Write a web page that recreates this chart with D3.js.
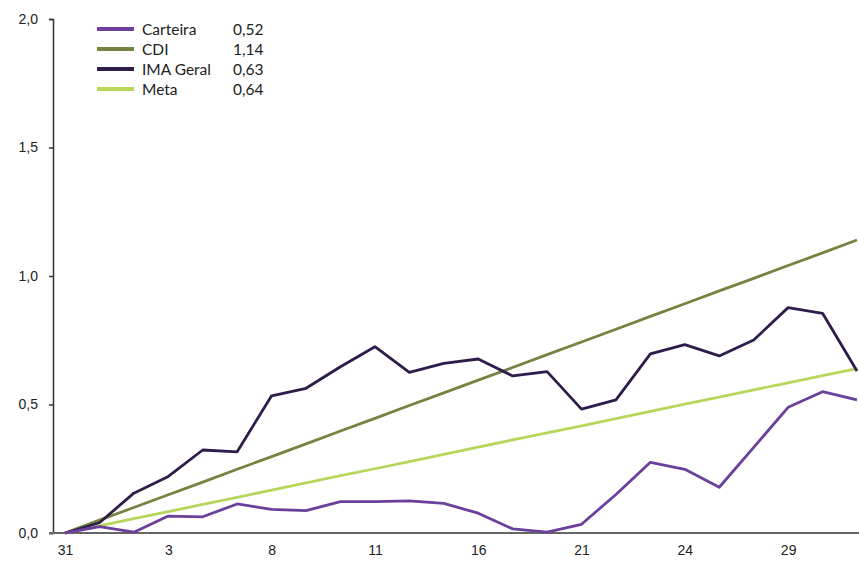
<!DOCTYPE html>
<html>
<head>
<meta charset="utf-8">
<script src="https://cdn.jsdelivr.net/npm/d3@7.9.0/dist/d3.min.js"></script>
<style>
  body { margin: 0; background: #fff; }
  svg { font-family: Lato, "Open Sans", sans-serif; }
  .axis text { font-size: 14px; fill: #222; }
</style>
</head>
<body>
<svg id="chart" width="859" height="561"></svg>
<script>
const days = ['31','1','2','3','6','7','8','9','10','11','14','15','16','17','18','21','22','23','24','25','28','29','30','31'];
const tickDays = [0, 3, 6, 9, 12, 15, 18, 21];

const carteira = [0, 0.025, 0.003, 0.066, 0.063, 0.113, 0.092, 0.087, 0.122, 0.122, 0.125, 0.115, 0.077, 0.016, 0.003, 0.034, 0.15, 0.275, 0.248, 0.178, 0.333, 0.489, 0.55, 0.518];
const cdi = [0, 0.050, 0.099, 0.149, 0.198, 0.248, 0.297, 0.347, 0.397, 0.446, 0.496, 0.545, 0.595, 0.644, 0.694, 0.743, 0.793, 0.843, 0.892, 0.942, 0.991, 1.041, 1.090, 1.14];
const imaGeral = [0, 0.04, 0.155, 0.22, 0.323, 0.316, 0.534, 0.563, 0.647, 0.725, 0.625, 0.66, 0.677, 0.611, 0.628, 0.482, 0.518, 0.697, 0.733, 0.689, 0.751, 0.877, 0.855, 0.63];
const meta = [0, 0.028, 0.056, 0.083, 0.111, 0.139, 0.167, 0.195, 0.223, 0.250, 0.278, 0.306, 0.334, 0.362, 0.390, 0.417, 0.445, 0.473, 0.501, 0.529, 0.557, 0.584, 0.612, 0.64];

const seriesNames = ['Carteira', 'CDI', 'IMA Geral', 'Meta'];
const seriesTotals = ['0,52', '1,14', '0,63', '0,64'];
const yTicks = [0, 0.5, 1, 1.5, 2];

const series = [
  { name: seriesNames[0], total: seriesTotals[0], values: carteira, color: '#6a409c' },
  { name: seriesNames[1], total: seriesTotals[1], values: cdi, color: '#758341' },
  { name: seriesNames[2], total: seriesTotals[2], values: imaGeral, color: '#2e1d4a' },
  { name: seriesNames[3], total: seriesTotals[3], values: meta, color: '#b6d75b' }
];

const svg = d3.select('#chart');
const plotLeft = 53, plotRight = 857, plotTop = 19, plotBottom = 533;

const x = d3.scalePoint().domain(d3.range(days.length)).range([65, plotRight]);
const y = d3.scaleLinear().domain([0, 2]).range([plotBottom, plotTop]);

// y axis
const yAxis = svg.append('g')
  .attr('class', 'axis')
  .attr('transform', `translate(${plotLeft},0)`)
  .call(d3.axisLeft(y).tickValues(yTicks).tickSize(4).tickPadding(11)
    .tickFormat(d => d3.format('.1f')(d).replace('.', ',')));
yAxis.select('.domain').attr('stroke', '#333').attr('stroke-width', 1.5);
yAxis.selectAll('line').attr('stroke', '#333').attr('stroke-width', 1.5);

// x axis
const xAxis = svg.append('g')
  .attr('class', 'axis')
  .attr('transform', `translate(0,${plotBottom})`)
  .call(d3.axisBottom(x).tickValues(tickDays).tickSize(0).tickPadding(12)
    .tickFormat(i => days[i]));
xAxis.select('.domain').remove();
xAxis.append('line')
  .attr('x1', plotLeft - 4).attr('x2', 859)
  .attr('stroke', '#666').attr('stroke-width', 2);

const line = d3.line()
  .x((d, i) => x(i))
  .y(d => y(d));

// draw order: Meta, CDI, IMA, Carteira
[3, 1, 2, 0].forEach(k => {
  svg.append('path')
    .datum(series[k].values)
    .attr('fill', 'none')
    .attr('stroke', series[k].color)
    .attr('stroke-width', 2.8)
    .attr('stroke-linejoin', 'round')
    .attr('d', line);
});

// legend
const legend = svg.append('g').attr('transform', 'translate(97,29)');
series.forEach((s, i) => {
  const g = legend.append('g').attr('transform', `translate(0,${i * 20})`);
  g.append('line').attr('x1', 0).attr('x2', 37)
    .attr('stroke', s.color).attr('stroke-width', 4);
  g.append('text').attr('x', 45).attr('y', 5.5)
    .style('font-size', '15.5px').attr('fill', '#222').text(s.name);
  g.append('text').attr('x', 136).attr('y', 5.5)
    .style('font-size', '15.5px').attr('fill', '#222').text(s.total);
});
</script>
</body>
</html>
